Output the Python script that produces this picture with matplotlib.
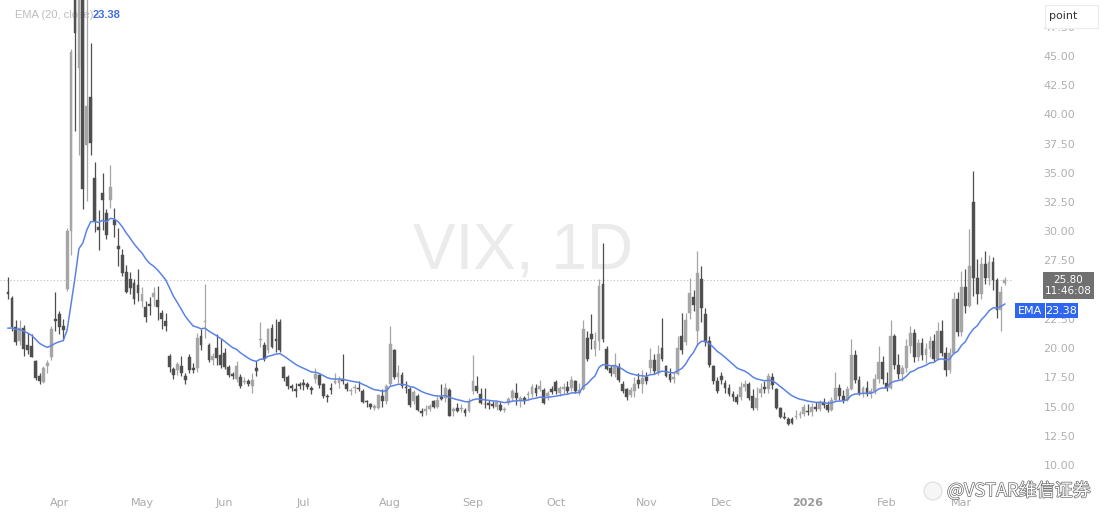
import numpy as np
import matplotlib
matplotlib.use("Agg")
import matplotlib.pyplot as plt
import matplotlib.patheffects as pe
from matplotlib.patches import Rectangle, Ellipse

# ---------------- data (daily VIX candles, Mar 13 2025 -> Mar 2026) ----------------
opens = [24.8, 24.3, 21.8, 20.6, 21.7, 20.3, 20.2, 18.9, 17.6, 17.1, 18.5, 19.2, 22.5, 22.9, 21.9, 25.1, 30.0, 60.1, 44.0, 50.0,
         37.4, 41.5, 34.6, 30.4, 33.3, 31.6, 32.7, 31.0, 28.7, 28.0, 26.5, 25.9, 25.6, 25.4, 24.0, 23.5, 23.8, 24.4, 24.1, 23.0,
         22.3, 19.3, 18.2, 18.1, 18.5, 17.6, 19.2, 18.3, 18.3, 21.0, 22.2, 20.3, 19.0, 20.0, 19.4, 19.6, 18.4, 17.8, 17.4, 17.5,
         17.1, 17.2, 16.8, 18.3, 20.7, 20.3, 19.8, 21.7, 20.8, 22.2, 18.4, 17.5, 16.8, 16.5, 16.9, 17.0, 16.9, 16.6, 17.4, 17.7,
         16.9, 15.9, 16.6, 17.0, 17.0, 17.2, 16.9, 16.3, 16.6, 16.6, 16.3, 15.4, 15.2, 14.9, 14.9, 15.9, 15.5, 16.9, 19.8, 17.5,
         17.7, 16.6, 16.5, 15.5, 15.9, 14.6, 14.6, 14.8, 15.5, 15.0, 15.8, 15.7, 16.4, 14.6, 14.9, 14.8, 14.7, 14.6, 16.3, 16.8,
         16.1, 15.2, 15.3, 15.2, 15.0, 15.1, 14.7, 15.3, 15.7, 16.2, 15.6, 15.7, 16.0, 16.1, 16.6, 16.5, 16.4, 15.9, 16.5, 17.1,
         16.2, 16.5, 16.7, 16.6, 17.2, 16.2, 16.5, 20.9, 21.2, 19.9, 20.6, 25.5, 19.9, 18.3, 17.8, 18.4, 16.9, 16.5, 16.0, 16.3,
         17.3, 16.9, 17.5, 18.3, 19.0, 17.9, 20.0, 18.5, 17.8, 17.4, 17.8, 21.0, 20.5, 23.0, 24.4, 21.5, 25.9, 22.9, 20.6, 18.5,
         17.2, 17.6, 17.0, 16.6, 16.1, 15.8, 15.8, 16.7, 16.9, 15.9, 14.9, 16.2, 16.7, 16.5, 17.5, 16.5, 14.9, 14.1, 13.9, 13.9,
         14.1, 14.3, 14.4, 14.6, 14.5, 15.0, 14.8, 15.4, 15.1, 14.7, 15.6, 16.6, 15.9, 15.6, 16.5, 19.4, 17.3, 16.2, 16.6, 16.1,
         16.3, 17.4, 18.8, 17.0, 16.6, 21.0, 18.6, 17.8, 18.3, 20.2, 21.3, 19.2, 20.4, 19.4, 19.9, 20.6, 19.1, 21.5, 19.6, 18.1,
         19.6, 24.2, 21.4, 25.2, 23.6, 32.5, 26.0, 24.6, 27.2, 26.0, 27.4, 25.8, 23.3, 25.6]
highs = [26.1, 24.5, 22.4, 22.4, 22.0, 21.3, 21.2, 19.0, 17.9, 18.5, 19.0, 21.9, 24.8, 23.2, 22.5, 30.3, 45.6, 60.1, 57.5, 57.96,
         54.9, 46.1, 35.9, 31.8, 35.0, 31.9, 35.7, 32.0, 30.3, 28.5, 27.1, 26.5, 25.9, 26.8, 25.2, 24.0, 24.4, 25.2, 25.3, 23.3,
         23.0, 19.5, 18.4, 18.8, 19.3, 17.9, 19.5, 18.7, 21.3, 21.6, 25.5, 20.4, 19.6, 21.2, 20.8, 20.0, 18.6, 18.0, 18.9, 17.8,
         17.5, 17.4, 17.9, 18.9, 22.2, 20.5, 21.7, 22.1, 22.5, 22.5, 18.5, 17.7, 16.9, 17.0, 17.1, 17.4, 17.1, 16.8, 18.3, 17.8,
         17.0, 16.1, 17.0, 17.9, 17.6, 19.5, 17.1, 16.6, 16.9, 17.2, 16.5, 15.6, 15.3, 15.2, 16.1, 16.5, 16.9, 21.9, 19.9, 18.6,
         18.0, 17.2, 16.7, 16.4, 16.1, 14.9, 15.1, 15.2, 15.6, 15.9, 16.9, 17.0, 16.6, 15.0, 15.3, 15.2, 14.9, 15.7, 19.4, 17.6,
         16.6, 16.6, 15.6, 15.5, 15.5, 15.4, 15.0, 15.8, 16.5, 17.0, 15.9, 15.9, 16.3, 16.9, 16.9, 17.3, 16.6, 16.3, 16.8, 17.3,
         16.8, 17.0, 17.2, 17.6, 17.3, 17.0, 22.4, 21.5, 22.9, 21.4, 25.9, 28.99, 20.2, 18.6, 19.6, 18.7, 17.2, 16.6, 16.7, 17.5,
         17.9, 18.1, 18.0, 20.0, 19.5, 20.3, 22.6, 18.6, 18.3, 18.0, 21.0, 23.0, 23.0, 26.0, 25.0, 28.27, 27.0, 23.4, 21.0, 18.6,
         17.5, 18.0, 17.3, 16.9, 16.3, 16.1, 17.1, 17.3, 17.1, 16.5, 16.7, 17.0, 17.2, 17.9, 17.9, 16.6, 15.0, 14.5, 14.1, 14.1,
         14.7, 14.6, 15.2, 15.2, 15.3, 15.4, 15.6, 15.7, 15.5, 15.8, 18.0, 16.9, 16.4, 16.8, 20.8, 19.8, 17.6, 16.8, 17.2, 16.6,
         17.8, 20.2, 19.3, 18.0, 22.4, 21.2, 19.5, 18.6, 20.8, 21.9, 21.6, 20.8, 20.9, 20.4, 21.0, 21.2, 22.2, 22.4, 20.1, 20.0,
         24.8, 24.8, 26.6, 26.8, 30.2, 35.2, 27.6, 27.8, 28.3, 28.0, 27.8, 26.0, 25.3, 26.1]
lows = [24.2, 21.5, 20.3, 20.3, 19.3, 19.5, 19.2, 17.3, 16.9, 17.0, 17.9, 19.0, 21.5, 21.2, 20.7, 24.9, 28.0, 38.6, 36.5, 31.9,
        32.6, 36.5, 29.9, 28.4, 30.1, 29.3, 32.0, 29.5, 27.0, 26.2, 24.7, 24.6, 23.8, 24.0, 23.5, 22.2, 22.8, 23.6, 22.4, 21.6,
        21.5, 18.0, 17.4, 17.7, 17.6, 16.9, 17.9, 17.9, 18.0, 19.8, 20.9, 18.8, 18.6, 18.6, 18.3, 18.2, 17.5, 17.4, 17.1, 16.6,
        16.9, 16.8, 16.2, 17.6, 20.1, 18.9, 19.6, 20.0, 19.7, 19.7, 17.2, 16.5, 16.3, 15.8, 16.5, 16.4, 16.5, 16.1, 17.0, 16.6,
        15.7, 15.4, 16.1, 16.9, 16.6, 16.9, 16.3, 16.0, 16.2, 16.3, 15.3, 15.0, 14.8, 14.7, 14.8, 15.0, 15.2, 16.8, 17.4, 17.0,
        16.6, 16.2, 15.0, 15.2, 14.6, 14.2, 14.3, 14.6, 14.9, 14.9, 15.6, 15.4, 14.2, 14.2, 14.5, 14.5, 14.2, 14.5, 16.1, 16.2,
        15.2, 14.9, 14.8, 14.9, 14.7, 14.6, 14.5, 15.1, 15.5, 15.1, 15.0, 15.2, 15.6, 15.8, 15.9, 16.3, 15.2, 15.6, 16.1, 16.1,
        15.9, 16.1, 16.2, 16.3, 16.2, 16.0, 16.4, 18.9, 19.9, 19.3, 19.8, 20.5, 18.1, 17.6, 17.5, 17.1, 16.2, 15.6, 15.8, 15.8,
        16.6, 16.2, 16.9, 17.9, 17.8, 17.7, 18.9, 17.5, 17.1, 17.0, 17.7, 19.5, 20.3, 22.5, 23.2, 20.2, 22.2, 20.2, 18.4, 16.9,
        16.2, 16.9, 16.2, 15.9, 15.5, 15.2, 15.6, 16.3, 15.6, 14.7, 14.7, 15.8, 16.2, 16.2, 16.5, 14.8, 14.0, 13.9, 13.4, 13.5,
        13.9, 14.0, 14.2, 14.3, 14.2, 14.6, 14.6, 14.9, 14.5, 14.6, 15.5, 15.6, 15.3, 15.5, 16.4, 17.0, 16.0, 15.8, 15.9, 15.7,
        16.1, 17.0, 16.9, 16.3, 16.5, 18.2, 17.4, 17.2, 18.0, 19.6, 18.8, 18.9, 19.0, 18.7, 19.2, 18.9, 19.0, 19.3, 17.6, 17.9,
        19.5, 21.0, 21.0, 23.0, 23.5, 24.5, 23.8, 24.2, 25.5, 25.4, 25.0, 22.6, 21.5, 25.4]
closes = [24.66, 21.77, 20.51, 21.70, 19.90, 19.80, 19.28, 17.48, 17.15, 18.33, 18.69, 21.65, 22.28, 21.77, 21.51, 30.02, 45.31, 46.98, 52.33, 33.62,
          40.72, 37.56, 30.89, 30.12, 32.64, 29.65, 33.82, 30.57, 28.45, 26.47, 24.84, 25.15, 24.17, 24.70, 24.60, 22.68, 23.64, 24.76, 23.55, 22.48,
          21.90, 18.39, 17.72, 18.62, 17.83, 17.24, 18.14, 18.09, 20.87, 20.28, 22.29, 18.96, 19.31, 19.18, 18.57, 18.36, 17.69, 17.61, 18.48, 16.77,
          17.16, 16.95, 17.26, 18.02, 20.82, 19.11, 21.60, 20.14, 20.62, 19.83, 17.48, 16.76, 16.59, 16.32, 16.73, 16.83, 16.64, 16.38, 17.79, 16.81,
          15.94, 15.78, 16.40, 17.20, 17.38, 17.16, 16.52, 16.41, 16.65, 16.50, 15.37, 15.39, 14.93, 15.03, 15.98, 15.48, 16.72, 20.38, 17.52, 17.85,
          16.77, 16.57, 15.15, 16.25, 14.73, 14.49, 14.83, 15.09, 14.99, 15.57, 15.69, 16.60, 14.22, 14.79, 14.62, 14.85, 14.43, 15.36, 17.17, 16.35,
          15.30, 15.18, 15.11, 15.04, 15.35, 14.71, 14.76, 15.69, 16.36, 15.72, 15.70, 15.45, 16.10, 16.64, 16.18, 16.74, 15.29, 16.12, 16.28, 16.29,
          16.63, 16.65, 16.37, 17.24, 16.30, 16.43, 21.66, 19.03, 20.81, 20.64, 25.31, 20.78, 18.23, 17.87, 18.60, 17.30, 16.37, 15.79, 16.42, 16.92,
          16.91, 17.44, 17.17, 19.00, 18.01, 19.50, 19.08, 17.60, 17.28, 17.51, 20.00, 19.83, 22.38, 24.69, 23.66, 26.42, 23.43, 20.52, 18.56, 17.19,
          16.35, 17.24, 16.59, 16.08, 15.78, 15.41, 16.66, 16.93, 15.77, 14.85, 15.74, 16.50, 16.48, 17.62, 16.87, 14.91, 14.08, 14.00, 13.47, 13.60,
          14.20, 14.33, 14.95, 14.5, 15.0, 14.8, 15.4, 15.1, 14.7, 15.6, 16.6, 15.9, 15.6, 16.5, 19.4, 17.3, 16.2, 16.6, 16.1, 16.3,
          17.4, 18.8, 17.4, 16.6, 21.0, 18.6, 17.8, 18.3, 20.2, 21.3, 19.2, 20.4, 19.4, 19.9, 20.6, 19.1, 21.5, 19.6, 18.1, 19.6,
          24.2, 21.4, 25.2, 23.6, 27.0, 26.0, 24.6, 27.2, 26.0, 27.4, 25.8, 23.3, 24.8, 25.8]

ema_start = 21.4          # EMA(20) value carried in from before the first visible candle
ema_last_label = "23.38"
last_price_label = "25.80"
last_price = 25.80
countdown_label = "11:46:08"

month_labels = ["Apr", "May", "Jun", "Jul", "Aug", "Sep", "Oct", "Nov", "Dec", "2026", "Feb", "Mar"]
month_start_idx = [13, 34, 55, 75, 97, 118, 139, 162, 181, 203, 223, 242]
# 25.00 sits behind the last-price box in the reference, so it is not shown
price_ticks = [10.0, 12.5, 15.0, 17.5, 20.0, 22.5, 27.5, 30.0, 32.5, 35.0, 37.5, 40.0, 42.5, 45.0, 47.5]

# ---------------- figure ----------------
W, H = 1109, 526
fig = plt.figure(figsize=(W / 100, H / 100), dpi=100)
fig.patch.set_facecolor("white")
ax_left, ax_right, ax_top, ax_bot = 0, 1013, 0, 487
ax = fig.add_axes([ax_left / W, 1 - ax_bot / H, (ax_right - ax_left) / W, (ax_bot - ax_top) / H])
ax.set_facecolor("white")

n = len(closes)
x = np.arange(n)
o = np.array(opens); h = np.array(highs); l = np.array(lows); c = np.array(closes)
up = c >= o
up_col = "#a6a6a6"
dn_col = "#4f4f4f"
cols = np.where(up, up_col, dn_col)

# watermark
ax.text(0.516, 0.483, "VIX, 1D", transform=ax.transAxes, ha="center", va="center",
        fontsize=46, color="#ebebeb", family="Liberation Sans", zorder=0)

# legend text sits under the candles (they cover part of it in the reference)
ax.text(15 / (ax_right - ax_left), 1 - 15 / (ax_bot - ax_top), "EMA (20, close)", transform=ax.transAxes,
        fontsize=8, color="#bdbdbd", va="center", ha="left", family="Liberation Sans", zorder=1)

# dotted last-price line
ax.axhline(last_price, color="#bdbdbd", lw=0.8, ls=(0, (1, 2)), zorder=1)

# wicks and bodies
ax.vlines(x, l, h, colors=cols, lw=0.9, zorder=2)
body_bot = np.minimum(o, c)
body_h = np.maximum(np.abs(c - o), 0.08)
ax.bar(x, body_h, bottom=body_bot, width=0.72, color=cols, edgecolor=cols, linewidth=0.3, zorder=3)

# EMA(20)
alpha = 2 / 21
ema = []
prev = ema_start
for v in closes:
    prev = alpha * v + (1 - alpha) * prev
    ema.append(prev)
ax.plot(x, ema, color="#5b83e6", lw=1.1, zorder=4)

# scales
px_per_idx = 3.94
x0_px = 8
ax.set_xlim((ax_left - x0_px) / px_per_idx, (ax_right - x0_px) / px_per_idx)
px_per_unit = 11.686
y10_px = 465
ax.set_ylim(10 - (ax_bot - y10_px) / px_per_unit, 10 + (y10_px - ax_top) / px_per_unit)

ax.set_xticks(month_start_idx)
ax.set_xticklabels(month_labels)
ax.tick_params(axis="x", length=0, pad=8, labelsize=8, labelcolor="#ababab")
for lab in ax.get_xticklabels():
    if lab.get_text() == "2026":
        lab.set_fontweight("bold")
        lab.set_color("#9a9a9a")

ax.yaxis.tick_right()
ax.set_yticks(price_ticks)
ax.set_yticklabels([f"{t:.2f}" for t in price_ticks])
ax.tick_params(axis="y", length=0, pad=22, labelsize=8, labelcolor="#b0b0b0")
for s in ax.spines.values():
    s.set_visible(False)

# ---------------- overlays in pixel coordinates ----------------
def fx(px):
    return px / W

def fy(py):
    return 1 - py / H

fig.text(fx(93), fy(15), ema_last_label, fontsize=8, color="#3f6fe0", va="center", ha="left",
         family="Liberation Sans", fontweight="bold", zorder=5)

# "point" button
fig.patches.append(Rectangle((fx(1045), fy(28)), fx(53), 23 / H, transform=fig.transFigure,
                             facecolor="white", edgecolor="#ececec", lw=0.8, zorder=5))
fig.text(fx(1063), fy(16), "point", fontsize=8, color="#333333", va="center", ha="center", zorder=6)

# last price box
fig.patches.append(Rectangle((fx(1043), fy(299)), fx(51), 27 / H, transform=fig.transFigure,
                             facecolor="#707070", edgecolor="none", zorder=5))
fig.text(fx(1068), fy(285.5), last_price_label + "\n" + countdown_label, fontsize=7.5, color="white",
         va="center", ha="center", linespacing=1.15, zorder=6)

# EMA value box
fig.patches.append(Rectangle((fx(1015), fy(318)), fx(63), 15 / H, transform=fig.transFigure,
                             facecolor="#2f66f0", edgecolor="none", zorder=5))
fig.patches.append(Rectangle((fx(1045), fy(318)), fx(1), 15 / H, transform=fig.transFigure,
                             facecolor="white", edgecolor="none", zorder=6))
fig.text(fx(1030), fy(310.5), "EMA", fontsize=8, color="white", va="center", ha="center", zorder=7)
fig.text(fx(1061), fy(310.5), ema_last_label, fontsize=8, color="white", va="center", ha="center", zorder=7)

# bottom-right watermark
fig.patches.append(Ellipse((fx(933), fy(491)), 18 / W, 18 / H, transform=fig.transFigure,
                           facecolor="#f6f6f6", edgecolor="#dedede", lw=0.8, zorder=5))
fig.text(fx(947), fy(491), "@VSTAR维信证券", fontsize=13, color="white",
         family=["Noto Sans CJK SC", "DejaVu Sans"], va="center", ha="left", zorder=6,
         path_effects=[pe.withStroke(linewidth=1.0, foreground="#6a6a6a")])

fig.savefig("out.png", dpi=100, facecolor="white")
